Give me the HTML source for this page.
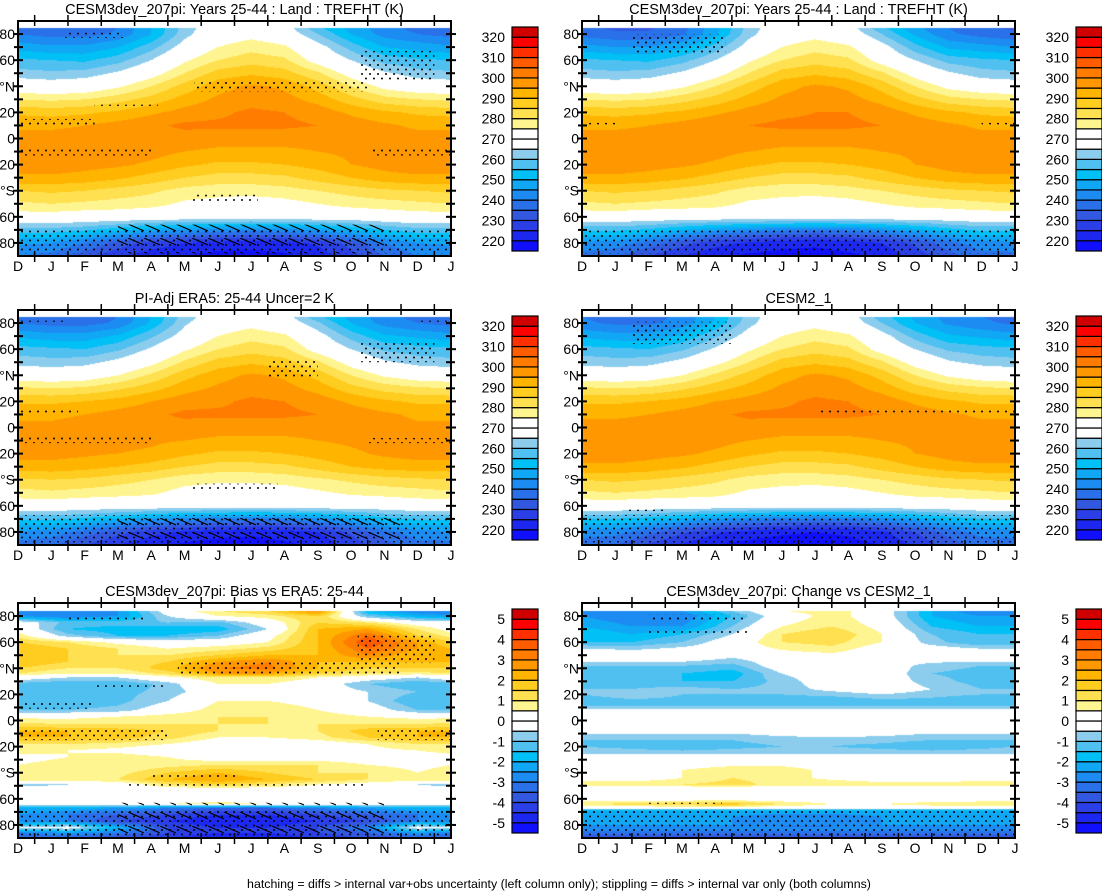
<!DOCTYPE html>
<html><head><meta charset="utf-8">
<style>
html,body{margin:0;padding:0;background:#fff;}
#root{position:relative;width:1102px;height:891px;overflow:hidden;font-family:"Liberation Sans",Arial,sans-serif;}
canvas{position:absolute;}
svg{position:absolute;left:0;top:0;}
</style></head>
<body>
<div id="root">
<svg id="ov" width="1102" height="891"></svg>
</div>
<script>
// ---------- data ----------
const monthLabels = ["D","J","F","M","A","M","J","J","A","S","O","N","D","J"];
const latTickLabels = ["80","60","°N","20","0","20","°S","60","80"];
const tempTickLabels = ["320","310","300","290","280","270","260","250","240","230","220"];
const diffTickLabels = ["5","4","3","2","1","0","-1","-2","-3","-4","-5"];
const colors = ["#1010ff","#1c28f0","#2a40e6","#3358e0","#2a70e8","#1c8cf2","#10a8f5","#00c0f5","#50c0f0","#8ccdee","#ffffff","#ffffff","#fff590","#ffe050","#ffcc20","#ffb400","#ff9800","#ff7c00","#ff5c00","#ff3000","#ff0000","#d00000"];

const colsFull = [0,1,2,3,4,5,6,7,8,9,10,11,12,13];
const latsT = [85,80,70,60,50,40,30,20,10,0,-10,-20,-30,-40,-50,-60,-70,-80,-90];
const tempA = [
[238,236,236,240,250,262,270,272,268,256,248,242,238,236],
[240,238,238,241,250,263,271,273,270,260,250,243,240,238],
[248,246,246,250,258,268,275,278,276,268,258,250,248,246],
[256,255,254,258,265,274,280,283,281,272,265,258,256,255],
[262,261,262,266,272,280,287,289,287,281,272,266,262,261],
[270,269,270,274,280,287,293,296,294,288,280,273,270,269],
[280,279,280,283,287,292,296,298,297,293,287,282,280,279],
[289,288,289,291,294,297,299,301,300,298,294,291,289,288],
[294,294,295,297,299,301,301,301,301,300,298,296,294,294],
[297,297,297,298,298,298,297,297,297,297,297,297,297,297],
[298,298,298,298,297,295,294,294,294,295,296,297,298,298],
[298,298,297,296,294,291,289,289,290,292,295,297,298,298],
[294,294,293,291,288,285,283,283,284,287,290,293,294,294],
[285,286,285,283,281,278,277,277,278,280,282,284,285,286],
[279,280,279,278,277,274,273,272,273,275,277,278,279,280],
[272,272,271,271,270,270,270,270,270,270,270,271,272,272],
[258,258,256,252,248,245,243,242,243,246,250,255,258,258],
[246,245,240,233,228,225,223,222,223,226,232,240,245,246],
[240,238,232,226,222,220,218,218,219,222,228,235,240,240]];
const tempB = [
[238,236,236,240,250,262,270,272,268,256,248,242,238,236],
[240,238,238,241,251,264,271,273,270,261,250,243,240,238],
[249,247,247,251,259,268,275,278,276,268,258,251,249,247],
[257,256,255,259,266,274,280,283,281,272,265,259,257,256],
[263,262,263,267,273,281,287,289,287,281,272,266,263,262],
[271,270,271,275,281,288,293,296,294,288,280,274,271,270],
[281,280,281,284,288,293,296,298,297,293,287,283,281,280],
[289,289,290,292,295,298,299,301,300,298,294,291,289,289],
[294,294,295,297,299,301,301,301,301,300,298,296,294,294],
[296,296,297,297,298,298,297,297,297,297,297,297,296,296],
[297,297,297,297,296,295,294,294,294,295,296,297,297,297],
[297,297,296,295,294,291,289,289,290,292,294,296,297,297],
[293,293,292,290,288,285,283,283,284,287,290,292,293,293],
[284,285,284,282,280,277,276,276,277,279,281,283,284,285],
[278,279,278,277,276,273,272,272,272,274,276,277,278,279],
[271,271,270,270,270,270,270,270,270,270,270,270,271,271],
[256,256,254,250,246,243,241,240,241,244,248,253,256,256],
[244,243,238,232,227,224,222,221,222,225,231,238,243,244],
[238,236,230,225,221,219,218,218,219,221,227,233,238,238]];
const tempC = [
[236,234,234,238,248,262,270,272,268,256,246,240,236,234],
[238,236,236,239,249,263,271,273,270,260,249,241,238,236],
[247,245,245,249,257,268,275,278,276,268,257,249,247,245],
[256,255,254,258,265,274,280,283,281,272,265,258,256,255],
[262,261,262,266,272,280,287,289,287,281,272,266,262,261],
[270,269,270,274,280,287,293,296,294,288,280,273,270,269],
[280,279,280,283,287,292,296,298,297,293,287,282,280,279],
[289,288,289,291,294,297,299,300,300,298,294,291,289,288],
[294,294,295,297,299,300,301,301,301,300,298,296,294,294],
[297,297,297,298,298,298,297,297,297,297,297,297,297,297],
[298,298,298,298,297,295,294,294,294,295,296,297,298,298],
[298,298,297,296,294,291,289,289,290,292,295,297,298,298],
[294,294,293,291,288,285,283,283,284,287,290,293,294,294],
[285,286,285,283,281,278,277,277,278,280,282,284,285,286],
[279,280,279,278,277,274,273,272,273,275,277,278,279,280],
[271,271,270,270,270,270,270,270,270,270,270,270,271,271],
[256,256,254,250,246,243,241,240,241,244,248,253,256,256],
[244,243,238,232,227,224,222,221,222,225,231,238,243,244],
[238,236,230,225,221,219,218,218,219,221,227,233,238,238]];
const tempD = [
[240,238,238,241,250,262,270,272,268,257,249,243,240,238],
[241,239,239,242,251,263,271,273,270,260,250,244,241,239],
[249,247,247,251,259,268,275,278,276,268,258,251,249,247],
[257,256,255,259,266,274,280,283,281,272,265,259,257,256],
[263,262,263,267,273,280,287,289,287,281,272,266,263,262],
[271,270,271,275,281,287,293,296,294,288,280,274,271,270],
[281,280,281,284,288,292,296,298,297,293,287,283,281,280],
[289,289,290,292,295,297,299,301,300,298,294,291,289,289],
[294,294,295,297,299,301,301,301,301,300,298,296,294,294],
[297,297,297,298,298,298,297,297,297,297,297,297,297,297],
[298,298,298,298,297,295,294,294,294,295,296,297,298,298],
[298,298,297,296,294,291,289,289,290,292,295,297,298,298],
[294,294,293,291,288,285,283,283,284,287,290,293,294,294],
[285,286,285,283,281,278,277,277,278,280,282,284,285,286],
[279,280,279,278,277,274,273,272,273,275,277,278,279,280],
[271,271,270,270,270,270,270,270,270,270,270,270,271,271],
[255,255,253,249,245,242,240,239,240,243,247,252,255,255],
[243,242,237,231,226,223,221,220,221,224,230,237,242,243],
[237,235,229,224,220,218,217,217,218,220,226,232,237,237]];

const colsDiff = [0,1.5,3,4.5,6,7.5,9,10.5,12,13];
const latsBias = [84,80,75,70,65,60,55,50,45,40,36,33,28,22,15,8,3,-3,-8,-13,-18,-23,-28,-34,-40,-45,-49,-53,-60,-64,-67,-72,-77,-82,-86,-90];
const biasVals = [
[-3,-3,-2.5,0,1,1.5,3,-2,-3,-3],
[-2.5,-3,-2.5,-0.5,0.5,0.8,1.5,-1,-2,-2.5],
[0,-1.2,-1.2,-1,-1.2,0,1.5,1,0,0],
[0.2,-1.5,-1.8,-2,-1.8,-0.5,2,2.5,1,0.2],
[0.8,-0.8,-1.5,-1.5,-1,0.2,2,3.5,1.5,0.8],
[1.5,1,0.3,0,0,0.5,2,4,2.5,1.5],
[2,1.5,1,0.5,0.8,1.2,2,3.5,2.5,2],
[2,1.5,1,1,1.5,2,2,3,2,2],
[2,1.5,1.2,1.5,2.5,3,2,2,2,2],
[1.5,1,1,1.8,3,3.2,2,1.5,1.5,1.5],
[1,0.5,0.5,1.2,2.5,2.5,1.5,1,0.8,1],
[0,-0.5,-0.5,0.3,1,1,0.5,0,-0.5,0],
[-1.2,-1.5,-1.5,-0.8,0.5,0.5,0,-1,-1.5,-1.2],
[-1,-1.2,-1.2,-0.8,0,0.3,0,-0.5,-1,-1],
[-1.5,-1.5,-1.2,-0.5,0.5,0.5,0.3,-0.5,-1.5,-1.5],
[-1,-1,-0.8,0,0.8,0.8,0.5,0,-1,-1],
[0.3,0.3,0.5,0.8,1,1,0.8,0.5,0.3,0.3],
[1.2,1,1,1,1,1,1,1,1,1.2],
[2,2,1.8,1.5,1,0.8,1,1.8,2,2],
[2,2,1.8,1.2,0.5,0.5,0.8,1.5,2,2],
[1,1,0.8,0.5,0,-0.2,0,0.5,1,1],
[0.8,0.5,0.3,0,0,0,0,0.3,0.5,0.8],
[0.2,0.5,0.8,0.5,0,0,0,0,0,0.2],
[0.5,0.8,0.5,0.8,1,1,1,0.5,0.3,0.5],
[0.8,1,0.8,1.5,2,1.5,1,1,0.5,0.8],
[1,1,1,2,2.5,2,1.5,1,1,1],
[-0.8,-0.5,0,1,1.5,1,0.5,0.2,-0.5,-0.8],
[0,0,0,0,0,0,0,0,0,0],
[0,0,0,0,0,0,0,0,0,0],
[0.2,0.3,0.5,0.5,0.8,0.5,0.3,0.3,0.2,0.2],
[-2,-2,-2.5,-3,-3.5,-3.5,-3,-2.5,-2,-2],
[-2.5,-3,-3.5,-4,-4.5,-4.5,-4,-3.5,-3,-2.5],
[-3,-3,-4,-4.5,-5,-5,-4.5,-4,-3,-3],
[-0.5,0,-2,-4,-4.5,-4.5,-4,-3,0,-0.5],
[-3,-2.5,-3,-4,-4.5,-4.5,-4,-3.5,-2.5,-3],
[-3.5,-3.5,-4,-4.5,-5,-5,-4.5,-4,-3.5,-3.5]];
const latsChange = [84,80,72,66,60,54,48,42,36,30,24,20,15,11,7,-5,-15,-20,-26,-30,-38,-44,-49,-52,-60,-64,-67,-69,-74,-80,-85,-90];
const changeVals = [
[-2.5,-3,-2.5,-1,0.5,0.8,0,-2,-3,-2.5],
[-2.5,-3,-3,-1.5,0,0.8,0,-2,-2.5,-2.5],
[-2,-2.5,-2.5,-1,0.5,1,0.3,-1.5,-2,-2],
[-1.5,-2,-1.5,-0.5,1,1.5,0.5,-1,-1.5,-1.5],
[-1.5,-1.5,-1,0,1,1.2,0.5,-0.8,-1.5,-1.5],
[-0.3,-0.5,-0.2,0,0.5,0.8,0,0,-0.3,-0.3],
[0,0,0,-0.5,0,0,0,0,0,0],
[-1,-1,-1,-1.2,0,0,0,-0.8,-1,-1],
[-1,-1.2,-1.5,-1.8,-0.5,0,0,-1,-1.2,-1],
[-1.2,-1.2,-1.5,-1.5,-0.8,0,0,-0.8,-1.2,-1.2],
[-1,-1,-0.8,-1,-0.8,-0.3,0,-0.5,-1,-1],
[-1,-0.5,-1,-1,-1,-0.8,-0.5,-0.8,-1,-1],
[-1.5,-1.2,-1.2,-1.2,-1.5,-1.5,-1.2,-1.2,-1.5,-1.5],
[-1,-1,-1,-1,-1,-1,-1,-1,-1,-1],
[0,0,0,0,0,0,0,0,0,0],
[0,0,0,0,0.2,0.5,0.2,0,0,0],
[-1,-1,-1,-1,-0.8,-0.8,-0.8,-1,-1,-1],
[-1,-1.2,-1.5,-1.2,-1,-1,-1.2,-1.5,-1.2,-1],
[-0.5,-0.5,-0.5,-0.5,-0.5,-0.5,-0.5,-0.5,-0.5,-0.5],
[0,0,0,0,0,0,0,0,0,0],
[0,0.3,0.5,0.8,0.8,0.3,0,0,-0.5,0],
[0,0,0.5,1,0.8,0.3,0,0,0,0],
[1,1,1,1.2,0.8,1,0.8,0.8,1,1],
[0,0,0,0,0,0,0,0,0,0],
[0,0,0,0,0,0,0,0,0,0],
[1,1.2,1.5,1.8,1,0.5,0.5,0.8,1,1],
[0,0,0,0,0,0,0,0,0,0],
[-2,-2,-2,-2,-2,-2,-2,-2,-2,-2],
[-2.5,-2.5,-2.5,-2.5,-3,-3,-2.5,-2.5,-2.5,-2.5],
[-2.5,-2.5,-2.5,-2.5,-3,-3,-2.5,-2.5,-2.5,-2.5],
[-3,-3,-3,-3,-3,-3,-3,-3,-3,-3],
[-4,-4,-4,-4,-4,-4,-4,-4,-4,-4]];

const stipA = [[1.4,3.2,81,77],[5.3,10.5,45,36],[10.3,12.5,67,44],[2.3,4.2,27,25],[0,2.3,15,9],[0,4,-8,-13],[10.6,13,-8,-13],[5.2,7.2,-43,-48],[0,13,-70,-88]];
const stipB = [[0,1.5,83,81],[12,13,83,81],[7.5,9,51,38],[10.3,12.5,66,50],[0,1.8,14,10],[0,4,-7,-12],[10.5,13,-8,-12],[5.2,7.8,-43,-48],[0,13,-67,-88]];
const stipC = [[1.5,4.3,80,64],[0,1,12,10],[12,13,12,10],[0,13,-70,-88]];
const stipD = [[1.5,4.5,81,64],[7,13,13,11],[0,1.2,11,10],[1.3,2.5,-62,-64],[0,13,-67,-88]];
const stipE = [[1.5,3.8,80,77],[4.8,11.5,45,35],[10.2,12.5,65,44],[2.3,4.5,27,25],[0,2.2,15,9],[0,4.5,-7,-15],[10.8,13,-7,-15],[5,7,-33,-34],[4,6.7,-40,-45],[3.2,10.5,-48,-50],[0,13,-68,-88]];
const stipF = [[2,5,81,77],[2,5,70,66],[0,0.6,15,14],[12,13,15,14],[2,4.2,-63,-64],[0,13,-68,-88]];
const hatchA = [[3,11,-66,-88]];
const hatchB = [[3,11.5,-66,-88]];
const hatchE = [[3,11,-63,-88]];

const PW = 433, PH = 235;
const panels = [
 {name:"panel-model-climatology",title:"CESM3dev_207pi: Years 25-44 : Land : TREFHT (K)",x:18,y:21,cols:colsFull,lats:latsT,vals:tempA,lo:220,step:5,ticks:tempTickLabels,stip:stipA,hatch:hatchA},
 {name:"panel-model-climatology-2",title:"CESM3dev_207pi: Years 25-44 : Land : TREFHT (K)",x:582,y:21,cols:colsFull,lats:latsT,vals:tempC,lo:220,step:5,ticks:tempTickLabels,stip:stipC,hatch:[]},
 {name:"panel-era5",title:"PI-Adj ERA5: 25-44 Uncer=2 K",x:18,y:310,cols:colsFull,lats:latsT,vals:tempB,lo:220,step:5,ticks:tempTickLabels,stip:stipB,hatch:hatchB},
 {name:"panel-cesm2",title:"CESM2_1",x:582,y:310,cols:colsFull,lats:latsT,vals:tempD,lo:220,step:5,ticks:tempTickLabels,stip:stipD,hatch:[]},
 {name:"panel-bias-vs-era5",title:"CESM3dev_207pi: Bias vs ERA5: 25-44",x:18,y:603,cols:colsDiff,lats:latsBias,vals:biasVals,lo:-5,step:0.5,ticks:diffTickLabels,stip:stipE,hatch:hatchE},
 {name:"panel-change-vs-cesm2",title:"CESM3dev_207pi: Change vs CESM2_1",x:582,y:603,cols:colsDiff,lats:latsChange,vals:changeVals,lo:-5,step:0.5,ticks:diffTickLabels,stip:stipF,hatch:[]}
];

const NS = "http://www.w3.org/2000/svg";
const ov = document.getElementById('ov');
const root = document.getElementById('root');
function mk(tag, attrs, parent){const e=document.createElementNS(NS,tag);for(const k in attrs)e.setAttribute(k,attrs[k]);(parent||ov).appendChild(e);return e;}

const defs = mk('defs',{});
const pat = mk('pattern',{id:'dots',width:8,height:9,patternUnits:'userSpaceOnUse'},defs);
mk('circle',{cx:2,cy:2,r:1.0,fill:'#000'},pat);
mk('circle',{cx:6,cy:6.5,r:1.0,fill:'#000'},pat);
const hp = mk('pattern',{id:'hatch',width:16,height:14,patternUnits:'userSpaceOnUse'},defs);
mk('line',{x1:0,y1:0,x2:16,y2:7,stroke:'#000','stroke-width':1.2},hp);

function xOfMonth(p,m){return p.x + m/13*PW;}
function yOfLat(p,lat){return p.y + (90-lat)/180*PH;}

function valueAt(p, m, lat){
  const L = p.lats, C = p.cols, V = p.vals;
  if (lat > L[0]) return NaN;
  let r = 0; while (r < L.length-2 && lat < L[r+1]) r++;
  let ty = (L[r]-lat)/(L[r]-L[r+1]); ty=Math.max(0,Math.min(1,ty));
  let c = 0; while (c < C.length-2 && m > C[c+1]) c++;
  let tx = (m-C[c])/(C[c+1]-C[c]); tx=Math.max(0,Math.min(1,tx));
  const a=V[r][c], b=V[r][c+1], d=V[r+1][c], e=V[r+1][c+1];
  return (a*(1-tx)+b*tx)*(1-ty)+(d*(1-tx)+e*tx)*ty;
}
function hexToRgb(h){return [parseInt(h.substr(1,2),16),parseInt(h.substr(3,2),16),parseInt(h.substr(5,2),16)];}
const rgb = colors.map(hexToRgb);
function levelIndex(p,v){let i=0;for(let k=0;k<21;k++){if(v>=p.lo+k*p.step)i=k+1;}return i;}

panels.forEach((p,pi)=>{
  const cv = document.createElement('canvas');
  cv.width=PW; cv.height=PH;
  cv.style.left=p.x+'px'; cv.style.top=p.y+'px';
  
  
  root.insertBefore(cv, ov);
  const ctx = cv.getContext('2d');
  const img = ctx.createImageData(PW,PH);
  for(let y=0;y<PH;y++){
    const lat = 90 - (y+0.5)/PH*180;
    for(let x=0;x<PW;x++){
      const m = (x+0.5)/PW*13;
      const v = valueAt(p,m,lat);
      const o=(y*PW+x)*4;
      let c=[255,255,255];
      if(!isNaN(v)) c = rgb[levelIndex(p,v)];
      img.data[o]=c[0];img.data[o+1]=c[1];img.data[o+2]=c[2];img.data[o+3]=255;
    }
  }
  ctx.putImageData(img,0,0);

  const g = mk('g',{});
  
  
  const cp = mk('clipPath',{id:'clip'+pi},defs);
  mk('rect',{x:p.x,y:p.y,width:PW,height:PH},cp);
  const sg = mk('g',{'clip-path':'url(#clip'+pi+')'},g);
  p.stip.forEach(s=>{
    const r = mk('rect',{x:xOfMonth(p,s[0]),y:yOfLat(p,s[2]),width:xOfMonth(p,s[1])-xOfMonth(p,s[0]),height:yOfLat(p,s[3])-yOfLat(p,s[2]),fill:'url(#dots)'},sg);
    
    
  });
  p.hatch.forEach(s=>{
    const r = mk('rect',{x:xOfMonth(p,s[0]),y:yOfLat(p,s[2]),width:xOfMonth(p,s[1])-xOfMonth(p,s[0]),height:yOfLat(p,s[3])-yOfLat(p,s[2]),fill:'url(#hatch)'},sg);
    
    
  });
  const fr = mk('rect',{x:p.x,y:p.y,width:PW,height:PH,fill:'none',stroke:'#000','stroke-width':2},g);
  
  
  const t = mk('text',{x:p.x+PW/2,y:p.y-7,'text-anchor':'middle','font-size':14.5,fill:'#000'},g);
  t.textContent = p.title;
  
  
  for(let lat=80;lat>=-80;lat-=10){
    const y=yOfLat(p,lat); const major = lat%20===0;
    mk('line',{x1:p.x-(major?5:4),x2:p.x+5,y1:y,y2:y,stroke:'#000','stroke-width':2},g);
    mk('line',{x1:p.x+PW-5,x2:p.x+PW+(major?5:4),y1:y,y2:y,stroke:'#000','stroke-width':2},g);
  }
  latTickLabels.forEach((lab,i)=>{
    const lat = 80 - i*20;
    const tx = mk('text',{x:p.x-3,y:yOfLat(p,lat)+5,'text-anchor':'end','font-size':14,fill:'#000'},g);
    tx.textContent = lab;
    
    
  });
  for(let k=0;k<13;k++){
    const x = xOfMonth(p,k+0.5);
    mk('line',{x1:x,x2:x,y1:p.y+PH+6,y2:p.y+PH-5,stroke:'#000','stroke-width':1.5},g);
    mk('line',{x1:x,x2:x,y1:p.y-6,y2:p.y+5,stroke:'#000','stroke-width':1.5},g);
  }
  monthLabels.forEach((lab,i)=>{
    const tx = mk('text',{x:xOfMonth(p,i),y:p.y+PH+15,'text-anchor':'middle','font-size':14,fill:'#000'},g);
    tx.textContent = lab;
    
    
  });
  const cbx = p.x + 494, cby = p.y + 6, bh = 224/22;
  const cb = mk('g',{},g);
  
  
  colors.forEach((c,i)=>{
    const r = mk('rect',{x:cbx,y:cby+(21-i)*bh,width:26,height:bh,fill:c,stroke:'#000','stroke-width':1.2},cb);
    
    
  });
  p.ticks.forEach((lab,i)=>{
    const y = cby + bh + i*2*bh;
    const tx = mk('text',{x:cbx-7,y:y+5,'text-anchor':'end','font-size':14,fill:'#000'},cb);
    tx.textContent = lab;
    
    
  });
});

const foot = mk('text',{x:559,y:888,'text-anchor':'middle','font-size':12.4,fill:'#000'});
foot.textContent = "hatching = diffs > internal var+obs uncertainty (left column only); stippling = diffs > internal var only (both columns)";


</script>
</body></html>
